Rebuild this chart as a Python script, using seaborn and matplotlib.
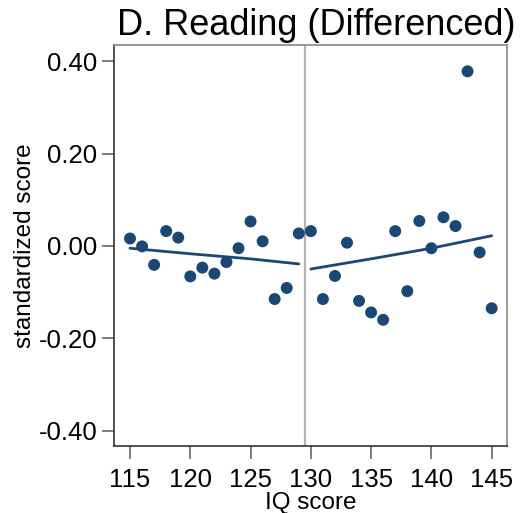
import matplotlib
matplotlib.use("Agg")
import matplotlib.pyplot as plt
import seaborn as sns
import pandas as pd

# ---- data ----
iq = [115, 116, 117, 118, 119, 120, 121, 122, 123, 124, 125, 126, 127, 128, 129,
      130, 131, 132, 133, 134, 135, 136, 137, 138, 139, 140, 141, 142, 143, 144, 145]
score = [0.016, -0.001, -0.041, 0.032, 0.018, -0.066, -0.047, -0.060, -0.035, -0.005,
         0.053, 0.010, -0.115, -0.091, 0.027,
         0.032, -0.115, -0.065, 0.007, -0.119, -0.144, -0.160, 0.032, -0.098, 0.054,
         -0.005, 0.062, 0.043, 0.378, -0.014, -0.135]
left_fit_x = [115, 120, 125, 129]
left_fit_y = [-0.005, -0.017, -0.028, -0.039]
right_fit_x = [130, 135, 140, 145]
right_fit_y = [-0.050, -0.028, -0.005, 0.022]
cutoff = 129.5
x_ticks = [115, 120, 125, 130, 135, 140, 145]
y_ticks = [-0.40, -0.20, 0.00, 0.20, 0.40]
title = "D. Reading (Differenced)"
xlabel = "IQ score"
ylabel = "standardized score"

sns.set_style("white")
plt.rcParams['font.family'] = ['Liberation Sans', 'DejaVu Sans']
plt.rcParams['text.color'] = 'black'
plt.rcParams['axes.labelcolor'] = 'black'

navy = "#1a4773"
fig = plt.figure(figsize=(5.27, 5.13), dpi=100)
ax = fig.add_axes([0.2163, 0.1312, 0.7457, 0.7811])

df = pd.DataFrame({"iq": iq, "score": score})
ax.axvline(cutoff, color="#b4b4b4", lw=1.6, zorder=1)
sns.scatterplot(data=df, x="iq", y="score", ax=ax, color=navy, s=74,
                edgecolor="none", linewidth=0, zorder=3)
sns.lineplot(x=left_fit_x, y=left_fit_y, ax=ax, color=navy, lw=2.0, zorder=2)
sns.lineplot(x=right_fit_x, y=right_fit_y, ax=ax, color=navy, lw=2.0, zorder=2)

ax.set_xlim(113.67, 146.27)
ax.set_ylim(-0.4325, 0.435)
ax.set_xticks(x_ticks)
ax.set_xticklabels([str(t) for t in x_ticks])
ax.set_yticks(y_ticks)
ax.set_yticklabels([f"{t:.2f}" for t in y_ticks])

ax.tick_params(axis="both", which="major", direction="out", length=9, width=1.2,
               color="#666666", labelsize=18.5, labelcolor="black", pad=3)
ax.tick_params(axis="x", bottom=True, pad=7)
ax.tick_params(axis="y", left=True)

for side in ["left", "bottom"]:
    ax.spines[side].set_color("#333333")
    ax.spines[side].set_linewidth(1.2)
for side in ["top", "right"]:
    ax.spines[side].set_color("#888888")
    ax.spines[side].set_linewidth(1.2)

ax.set_xlabel(xlabel, fontsize=17.5, labelpad=0)
ax.set_ylabel(ylabel, fontsize=17.5, labelpad=2)
ax.set_title(title, fontsize=26, pad=7, x=0.514, color="black")

fig.savefig("out.png", dpi=100)
